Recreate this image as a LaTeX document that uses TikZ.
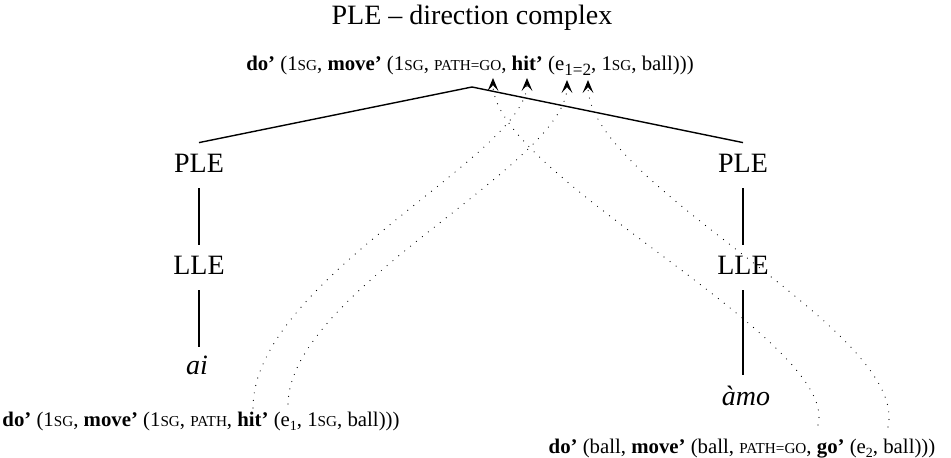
\documentclass[tikz,border=0pt]{standalone}
\usepackage{fontspec}
\setmainfont{Liberation Serif}
\usetikzlibrary{arrows.meta}
\newcommand\smc[1]{{\fontsize{7.6pt}{8pt}\selectfont #1}}
\newcommand\bigsub[1]{\raisebox{-0.5ex}{\fontsize{8.6pt}{9pt}\selectfont #1}}
\newcommand\lowsub[1]{\raisebox{-0.45ex}{\fontsize{7pt}{8pt}\selectfont #1}}
\newcommand\bigfont{\fontsize{14pt}{17pt}\selectfont}
\newcommand\formfont{\fontsize{10.4pt}{12pt}\selectfont}
\begin{document}
\begin{tikzpicture}[x=0.5pt,y=-0.5pt,
  treenode/.style={font=\bigfont, inner sep=7.5pt, text height=7.5pt, text depth=0pt, anchor=base},
  formula/.style={font=\formfont, inner sep=2pt, anchor=base},
  branch/.style={line width=0.7pt},
  link/.style={line width=0.6pt, line cap=round, dash pattern=on 0pt off 3.8pt,
    -{Stealth[length=6.5pt,width=5.4pt,inset=2.9pt]}}]
\useasboundingbox (0,0) rectangle (951,458);

\node[font=\bigfont, anchor=base, inner sep=0pt] (title) at (472,25) {PLE – direction complex};
\node[formula] (top) at (470,71) {\textbf{do’} (1\smc{SG}, \textbf{move’} (1\smc{SG}, \smc{PATH=GO}, \textbf{hit’} (e\bigsub{1=2}, 1\smc{SG}, ball)))};
\coordinate (root) at (472,87);

\node[treenode] (pleL) at (199,173) {PLE};
\node[treenode] (pleR) at (743,173) {PLE};
\node[treenode] (lleL) at (199,275) {LLE};
\node[treenode] (lleR) at (743,275) {LLE};
\node[treenode, text height=6.5pt] (ai) at (197,375) {\textit{ai}};
\node[treenode] (amo) at (746,405) {\textit{àmo}};

\node[formula] (fL) at (201,426) {\textbf{do’} (1\smc{SG}, \textbf{move’} (1\smc{SG}, \smc{PATH}, \textbf{hit’} (e\lowsub{1}, 1\smc{SG}, ball)))};
\node[formula] (fR) at (742,453) {\textbf{do’} (ball, \textbf{move’} (ball, \smc{PATH=GO}, \textbf{go’} (e\lowsub{2}, ball)))};

\draw[branch] (root) -- (pleL.north);
\draw[branch] (root) -- (pleR.north);
\draw[branch] (pleL.south) -- (lleL.north);
\draw[branch] (lleL.south) -- (lleL.south |- ai.north);
\draw[branch] (pleR.south) -- (lleR.north);
\draw[branch] (lleR.south) -- (lleR.south |- amo.north);

% link end points
\coordinate (hitL) at (253,408);
\coordinate (eoneL) at (288,404);
\coordinate (goR) at (818,425);
\coordinate (etwoR) at (888,427);
\coordinate (tGO) at (493,78);
\coordinate (tHIT) at (527,78);
\coordinate (tONE) at (567,80);
\coordinate (tTWO) at (588,80);

\draw[link] (hitL) .. controls (253,280) and (527,155) .. (tHIT);
\draw[link] (eoneL) .. controls (290,290) and (567,165) .. (tONE);
\draw[link] (goR) .. controls (840,340) and (493,175) .. (tGO);
\draw[link] (etwoR) .. controls (910,330) and (588,185) .. (tTWO);
\end{tikzpicture}
\end{document}
